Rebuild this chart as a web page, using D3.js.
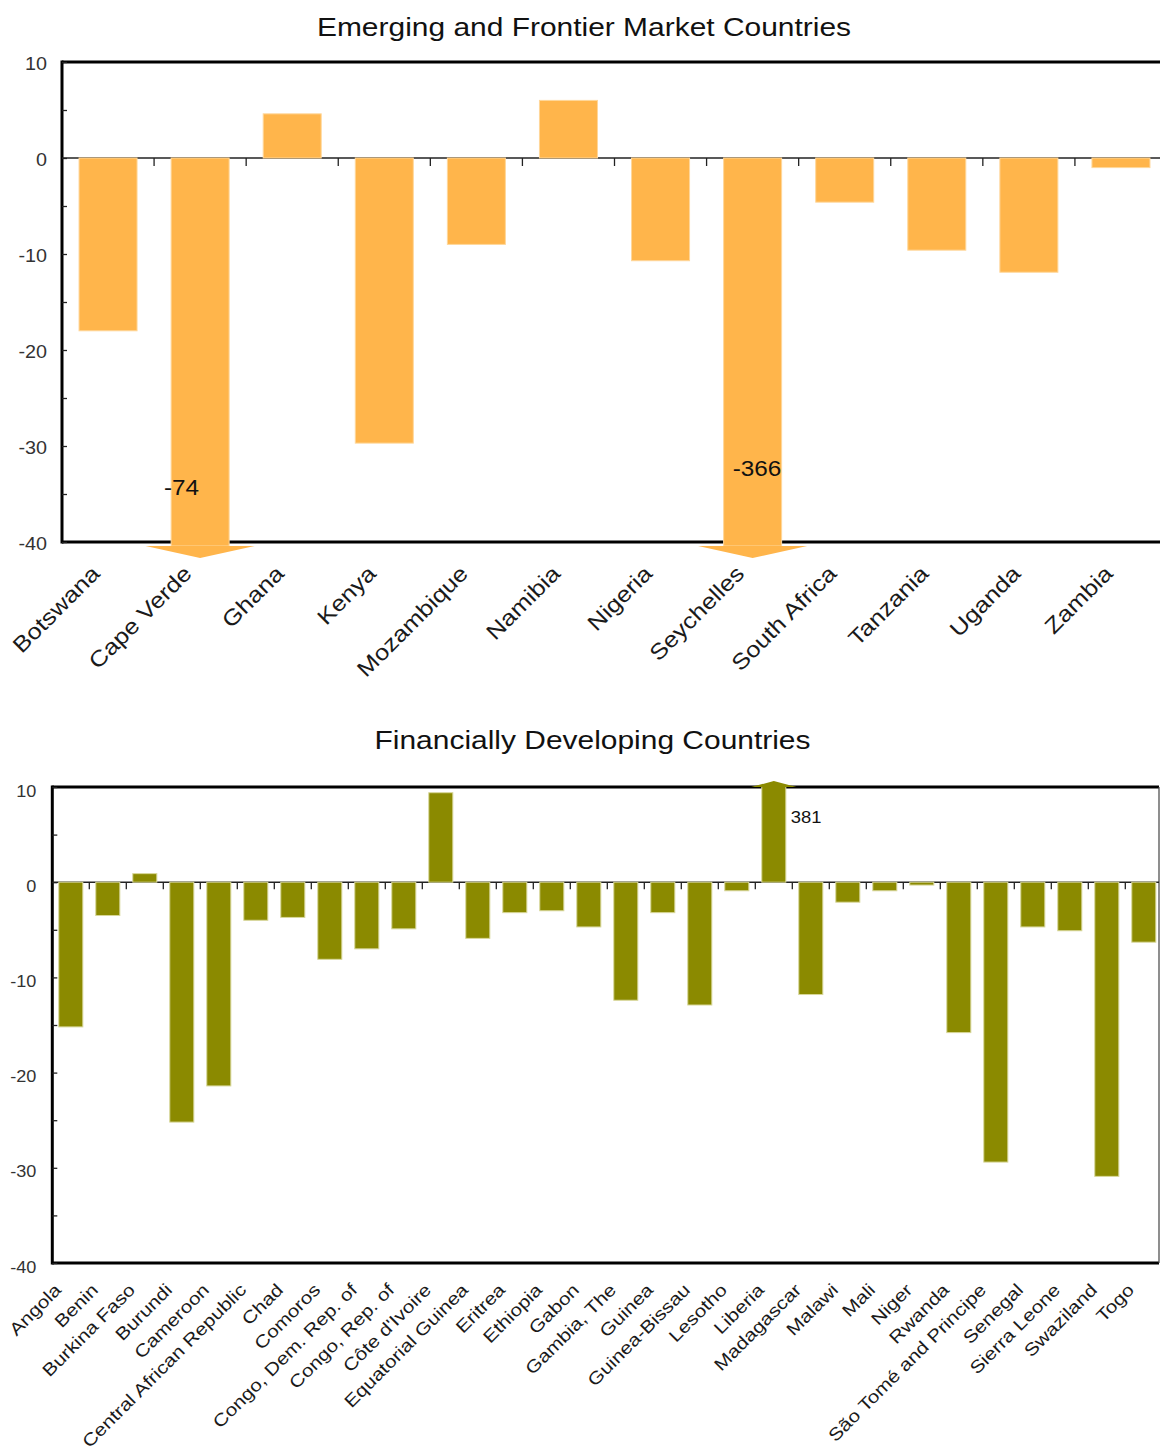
<!DOCTYPE html>
<html>
<head>
<meta charset="utf-8">
<script src="https://cdn.jsdelivr.net/npm/d3@7"></script>
<style>
  body { margin: 0; background: #fff; }
  svg { display: block; }
  text { font-family: "Liberation Sans", Arial, sans-serif; }
</style>
</head>
<body>
<svg id="chart" width="1160" height="1454"></svg>
<script>
// ---- data ----
const emergingTitle = "Emerging and Frontier Market Countries";
const emergingCountries = ["Botswana", "Cape Verde", "Ghana", "Kenya", "Mozambique", "Namibia",
  "Nigeria", "Seychelles", "South Africa", "Tanzania", "Uganda", "Zambia"];
const emergingValues = [-18.0, -74, 4.6, -29.7, -9.0, 6.0, -10.7, -366, -4.6, -9.6, -11.9, -1.0];

const developingTitle = "Financially Developing Countries";
const developingCountries = ["Angola", "Benin", "Burkina Faso", "Burundi", "Cameroon",
  "Central African Republic", "Chad", "Comoros", "Congo, Dem. Rep. of", "Congo, Rep. of",
  "Côte d'Ivoire", "Equatorial Guinea", "Eritrea", "Ethiopia", "Gabon", "Gambia, The",
  "Guinea", "Guinea-Bissau", "Lesotho", "Liberia", "Madagascar", "Malawi", "Mali", "Niger",
  "Rwanda", "São Tomé and Principe", "Senegal", "Sierra Leone", "Swaziland", "Togo"];
const developingValues = [-15.2, -3.5, 0.9, -25.2, -21.4, -4.0, -3.7, -8.1, -7.0, -4.9,
  9.4, -5.9, -3.2, -3.0, -4.7, -12.4, -3.2, -12.9, -0.9, 381, -11.8, -2.1, -0.9, -0.3,
  -15.8, -29.4, -4.7, -5.1, -30.9, -6.3];

const yDomain = [-40, 10];
const yTickValues = [10, 5, 0, -5, -10, -15, -20, -25, -30, -35, -40];

// ---- drawing ----
const svg = d3.select("#chart");
const STRETCH = 1.13; // glyphs are drawn slightly wide
const num = v => String(v); // plain hyphen-minus for negatives

function panel(cfg) {
  const g = svg.append("g");
  const x = d3.scaleBand()
    .domain(cfg.categories)
    .range([cfg.left, cfg.right])
    .paddingInner(cfg.padIn)
    .paddingOuter(cfg.padIn / 2);
  const y = d3.scaleLinear().domain(yDomain).range([cfg.bottom, cfg.top]);
  const bw = x.bandwidth();
  const cx = d => x(d) + bw / 2;

  // title
  g.append("text")
    .attr("transform", `translate(${cfg.titleX},${cfg.titleY}) scale(${STRETCH},1)`)
    .attr("text-anchor", "middle")
    .attr("font-size", cfg.titleSize)
    .attr("fill", "#111")
    .text(cfg.title);

  // frame
  g.append("line").attr("x1", cfg.left).attr("x2", cfg.frameRight)
    .attr("y1", cfg.top).attr("y2", cfg.top)
    .attr("stroke", "#000").attr("stroke-width", 3);
  g.append("line").attr("x1", cfg.left).attr("x2", cfg.frameRight)
    .attr("y1", cfg.bottom).attr("y2", cfg.bottom)
    .attr("stroke", "#000").attr("stroke-width", 3);
  g.append("line").attr("x1", cfg.left).attr("x2", cfg.left)
    .attr("y1", cfg.top - 1.5).attr("y2", cfg.bottom + 1.5)
    .attr("stroke", "#000").attr("stroke-width", 3);
  g.append("line").attr("x1", cfg.frameRight).attr("x2", cfg.frameRight)
    .attr("y1", cfg.top).attr("y2", cfg.bottom)
    .attr("stroke", "#444").attr("stroke-width", 1.2);

  // y axis: inward ticks every 5, labels every 10
  const yAxis = d3.axisLeft(y)
    .tickValues(yTickValues)
    .tickSize(-5)
    .tickPadding(0)
    .tickFormat(d => d % 10 === 0 ? num(d) : "");
  const ya = g.append("g").attr("transform", `translate(${cfg.left},0)`).call(yAxis);
  ya.select(".domain").remove();
  ya.selectAll(".tick line").attr("stroke", "#222").attr("stroke-width", 1.3);
  ya.selectAll(".tick text")
    .attr("x", null).attr("dy", null)
    .attr("font-family", null)
    .attr("font-size", cfg.yLabelSize)
    .attr("fill", "#333")
    .attr("transform", `translate(${-cfg.yLabelGap},${cfg.yLabelDy}) scale(${STRETCH},1)`);

  // zero line with downward category ticks at band boundaries
  g.append("line").attr("x1", cfg.left).attr("x2", cfg.frameRight)
    .attr("y1", y(0)).attr("y2", y(0))
    .attr("stroke", "#222").attr("stroke-width", 1.4);
  const bounds = d3.range(1, cfg.categories.length).map(i => cfg.left + i * x.step());
  g.append("g").selectAll("line").data(bounds).join("line")
    .attr("x1", d => d).attr("x2", d => d)
    .attr("y1", y(0)).attr("y2", y(0) + cfg.catTick)
    .attr("stroke", "#222").attr("stroke-width", 1.3);

  // bars (clamped to the axis range; off-scale bars end in an arrowhead)
  const rows = cfg.categories.map((c, i) => ({ c, v: cfg.values[i] }));
  const lo = yDomain[0], hi = yDomain[1];
  const barTop = d => d.v > hi ? y(hi) - 1 : y(Math.max(0, d.v));
  const barBot = d => d.v < lo ? y(lo) + 4 : y(Math.min(0, d.v));
  g.append("g").selectAll("rect").data(rows).join("rect")
    .attr("x", d => x(d.c))
    .attr("width", bw)
    .attr("y", barTop)
    .attr("height", d => barBot(d) - barTop(d))
    .attr("fill", cfg.color)
    .attr("stroke", cfg.edge)
    .attr("stroke-width", 1);

  const off = rows.filter(d => d.v < lo || d.v > hi);
  g.append("g").selectAll("path").data(off).join("path")
    .attr("d", d => {
      const c = cx(d.c), hw = bw * 0.94;
      if (d.v < lo) {
        const b = barBot(d);
        return `M${c - hw},${b}L${c + hw},${b}L${c},${b + 12}Z`;
      }
      const t = barTop(d);
      return `M${c - hw},${t + 1}L${c + hw},${t + 1}L${c},${t - 5}Z`;
    })
    .attr("fill", cfg.color);

  // value labels for off-scale bars
  g.append("g").selectAll("text").data(off).join("text")
    .attr("transform", d => {
      const a = cfg.annot(d, cx(d.c), y);
      return `translate(${a.x},${a.y}) scale(${STRETCH},1)`;
    })
    .attr("text-anchor", d => cfg.annot(d, cx(d.c), y).anchor)
    .attr("font-size", cfg.annotSize)
    .attr("fill", "#111")
    .text(d => num(d.v));

  // rotated category labels
  g.append("g").selectAll("text").data(cfg.categories).join("text")
    .attr("transform", d =>
      `translate(${cx(d) + cfg.labelDx},${cfg.labelY}) rotate(-45) scale(${cfg.labelStretch},1)`)
    .attr("text-anchor", "end")
    .attr("font-size", cfg.labelSize)
    .attr("fill", "#1a1a1a")
    .text(d => d);
}

panel({
  title: emergingTitle, titleX: 584, titleY: 36, titleSize: 26.5,
  categories: emergingCountries, values: emergingValues,
  left: 62, right: 1167, frameRight: 1167, top: 62, bottom: 542, padIn: 0.37,
  color: "#FFB54B", edge: "#FFD79A",
  yLabelSize: 17.5, yLabelGap: 15, yLabelDy: 7.3, catTick: 8,
  annotSize: 21.5,
  annot: (d, c, y) => d.v === -74
    ? { x: c - 1, y: y(-40) - 47, anchor: "end" }
    : { x: c - 20, y: y(-40) - 66, anchor: "start" },
  labelSize: 22, labelStretch: 1.16, labelDx: -7, labelY: 575
});

panel({
  title: developingTitle, titleX: 592.5, titleY: 749, titleSize: 26.5,
  categories: developingCountries, values: developingValues,
  left: 52.3, right: 1162.3, frameRight: 1159, top: 787, bottom: 1263, padIn: 0.35,
  color: "#8B8A00", edge: "#D8D79A",
  yLabelSize: 16, yLabelGap: 16, yLabelDy: 9, catTick: 7,
  annotSize: 16.3,
  annot: (d, c, y) => ({ x: c + 17, y: y(10) + 36, anchor: "start" }),
  labelSize: 17.5, labelStretch: 1.19, labelDx: -8.5, labelY: 1291
});
</script>
</body>
</html>
